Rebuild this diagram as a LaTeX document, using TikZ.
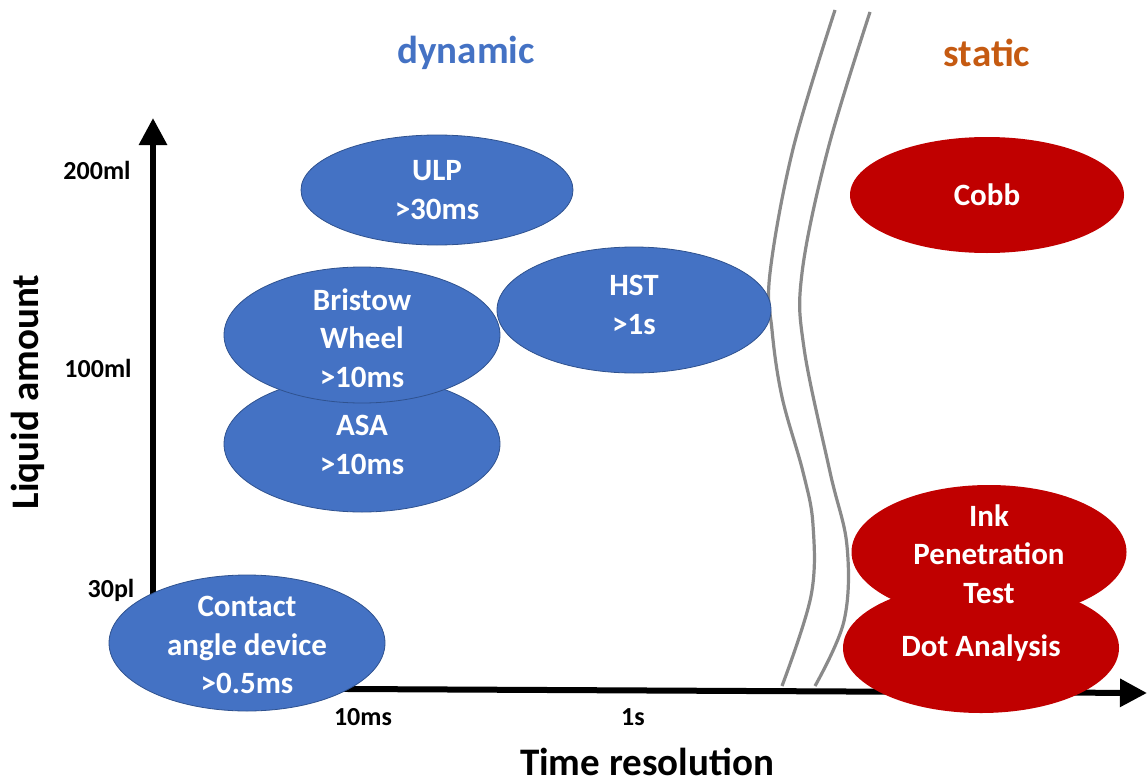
\documentclass[tikz,border=0pt]{standalone}
\usepackage{fontspec}
\setmainfont{Carlito}
\usetikzlibrary{shapes.geometric,arrows.meta}
\definecolor{eblue}{HTML}{4472C4}
\definecolor{eblueline}{HTML}{2F528F}
\definecolor{ered}{HTML}{C00000}
\definecolor{sorange}{HTML}{C55A11}
\definecolor{brk}{HTML}{8A8A8A}
\begin{document}
\begin{tikzpicture}[x=1pt,y=-1pt,
  blueell/.style={ellipse,fill=eblue,draw=eblueline,line width=0.8pt,inner sep=0pt},
  redell/.style={ellipse,fill=ered,inner sep=0pt},
  elltext/.style={text=white,font=\fontsize{31}{38.5}\selectfont\bfseries,align=center,inner sep=0pt},
  ticklab/.style={font=\fontsize{26}{30}\selectfont\bfseries,inner sep=0pt},
  axislab/.style={font=\fontsize{39}{45}\selectfont\bfseries,inner sep=0pt},
  axisline/.style={line width=6pt,-{Triangle[width=27pt,length=27pt]}},
  breakline/.style={draw=brk,line width=3.2pt}]
\useasboundingbox (0,0) rectangle (1148,784);

% axes
\coordinate (origin) at (153,688);
\coordinate (ytip) at (153,118);
\coordinate (xstart) at (150,688);
\coordinate (xtip) at (1147,693);
\draw[axisline] (153,691) -- (ytip);
\draw[axisline] (xstart) -- (xtip);

% break lines
\draw[breakline] plot[smooth,tension=0.6] coordinates {(835,10) (793,149) (770,273) (772,330) (782,397) (803,472) (813,525) (811,596) (782,686)};
\draw[breakline] plot[smooth,tension=0.6] coordinates {(870,12) (828,149) (802,273) (804,348) (830,472) (847,546) (844,621) (815,686)};

% headings
\node[axislab,text=eblue] (dyn) at (466,53) {dynamic};
\node[axislab,text=sorange] (stat) at (987,53) {static};

% axis labels
\node[axislab,rotate=90] (ylab) at (28,392) {Liquid amount};
\node[axislab] (xlab) at (647,762) {Time resolution};
\node[ticklab] (t200) at (97,170) {200ml};
\node[ticklab] (t100) at (98,368) {100ml};
\node[ticklab] (t30) at (111,590) {30pl};
\node[ticklab] (t10ms) at (363,717) {10ms};
\node[ticklab] (t1s) at (633,717) {1s};

% ellipses
\node[blueell,minimum width=272pt,minimum height=110pt] (ulp) at (437,190) {};
\node[elltext] at (ulp) {ULP\\>30ms};
\node[blueell,minimum width=276pt,minimum height=136pt] (asa) at (362,444) {};
\node[elltext] at (362,445) {ASA\\>10ms};
\node[blueell,minimum width=276pt,minimum height=136pt] (bw) at (362,335) {};
\node[elltext] at (362,338) {Bristow\\Wheel\\>10ms};
\node[blueell,minimum width=274pt,minimum height=126pt] (hst) at (634,310) {};
\node[elltext] at (634,305) {HST\\>1s};
\node[blueell,minimum width=276pt,minimum height=136pt] (cad) at (247,643) {};
\node[elltext] at (247,645) {Contact\\angle device\\>0.5ms};
\node[redell,minimum width=274pt,minimum height=116pt] (cobb) at (987,195) {};
\node[elltext] at (cobb) {Cobb};
\node[redell,minimum width=275pt,minimum height=134pt] (ink) at (989,552) {};
\node[redell,minimum width=276pt,minimum height=130pt] (dot) at (981,648) {};
\node[elltext] at (989,554) {Ink\\Penetration\\Test};
\node[elltext] at (981,648) {Dot Analysis};
\end{tikzpicture}
\end{document}
